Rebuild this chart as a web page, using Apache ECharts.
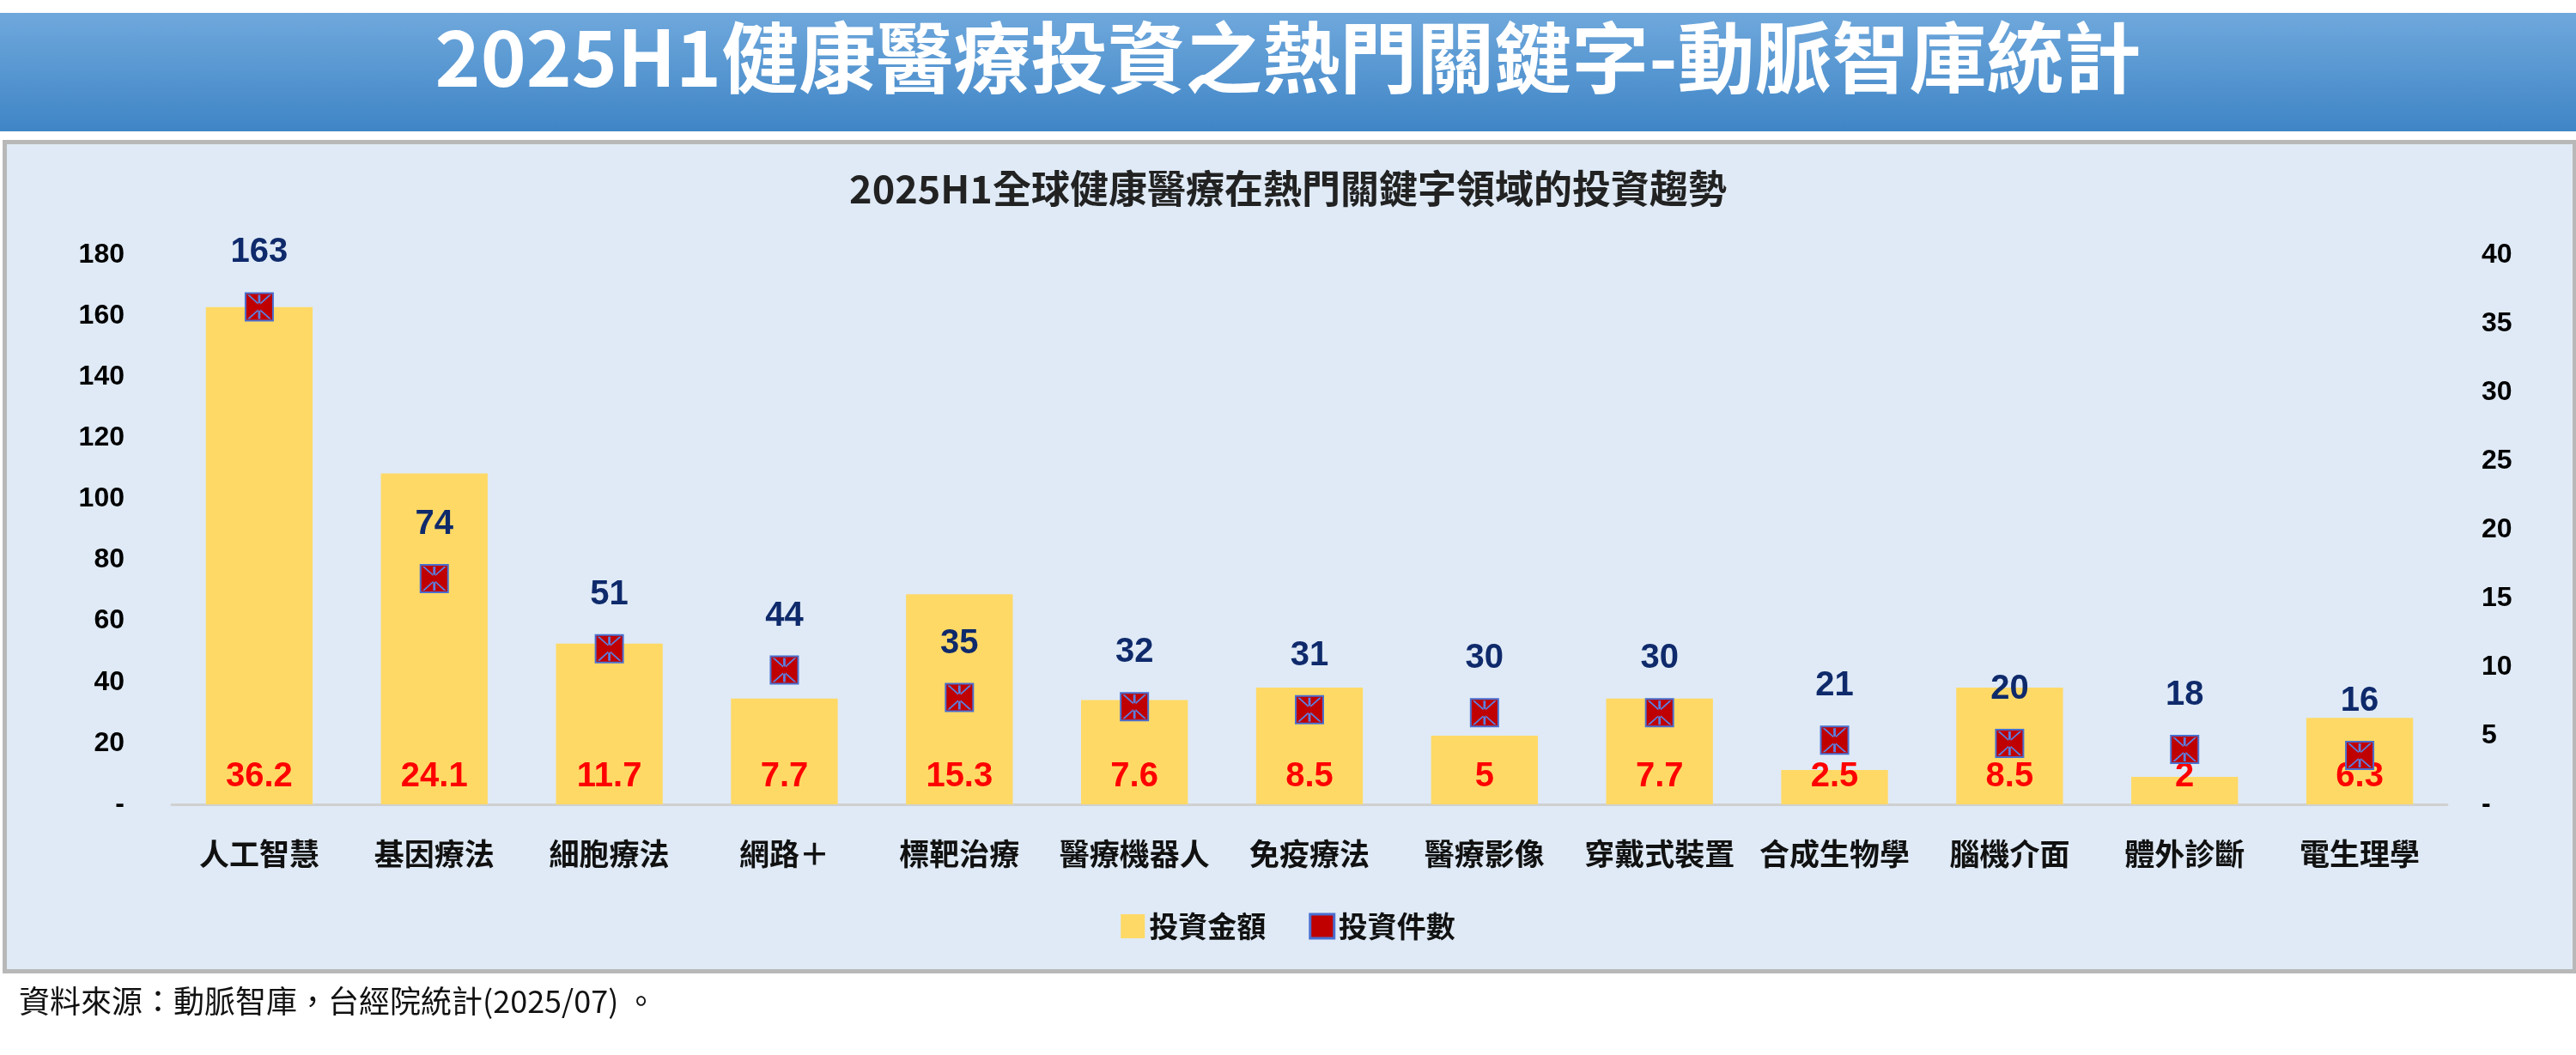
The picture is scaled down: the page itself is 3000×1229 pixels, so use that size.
<!DOCTYPE html>
<html><head><meta charset="utf-8">
<script src="https://cdn.jsdelivr.net/npm/echarts@6/dist/echarts.min.js"></script>
<style>html,body{margin:0;padding:0;background:#fff}#c{width:3000px;height:1229px}</style>
</head><body><div id="c"></div>
<script>
const categories = ['人工智慧','基因療法','細胞療法','網路＋','標靶治療','醫療機器人','免疫療法','醫療影像','穿戴式裝置','合成生物學','腦機介面','體外診斷','電生理學'];
const amounts = [36.2,24.1,11.7,7.7,15.3,7.6,8.5,5,7.7,2.5,8.5,2,6.3];
const counts = [163,74,51,44,35,32,31,30,30,21,20,18,16];
const leftTicks = {min:0,max:180,interval:20};
const rightTicks = {min:0,max:40,interval:5};

const F = '"Noto Sans CJK TC","Liberation Sans",sans-serif';
const chart = echarts.init(document.getElementById('c'));
chart.setOption({
  backgroundColor:'#ffffff',
  graphic:[
    {type:'rect',left:0,top:15,shape:{width:3000,height:138},style:{fill:new echarts.graphic.LinearGradient(0,0,0,1,[{offset:0,color:'#6fa8dc'},{offset:1,color:'#3f85c6'}])},z:-10},
    {type:'text',left:'center',top:22,style:{text:'2025H1健康醫療投資之熱門關鍵字-動脈智庫統計',fill:'#fff',font:'bold 90px '+F}},
    {type:'rect',left:3,top:163,shape:{width:2993,height:966},style:{fill:'#dfeaf6',stroke:'#b8b8b8',lineWidth:5},z:-10},
    {type:'text',left:22,top:1148,style:{text:'資料來源：動脈智庫，台經院統計(2025/07) 。',fill:'#111',font:'36px '+F}}
  ],
  title:{text:'2025H1全球健康醫療在熱門關鍵字領域的投資趨勢',left:'center',top:192,textStyle:{fontFamily:F,fontSize:45,fontWeight:'bold',color:'#222'}},
  legend:{bottom:128,left:'center',itemWidth:28,itemHeight:28,itemGap:50,textStyle:{fontFamily:F,fontSize:34,fontWeight:'bold',color:'#111'},
    data:[{name:'投資金額',icon:'rect',itemStyle:{color:'#ffd966'}},{name:'投資件數',icon:'rect',itemStyle:{color:'#c00000',borderColor:'#4a6fd0',borderWidth:3}}]},
  grid:{left:200,right:150,top:297,bottom:292},
  xAxis:{type:'category',data:categories,axisTick:{show:false},axisLine:{lineStyle:{color:'#d0d0d0',width:3}},
    axisLabel:{fontFamily:F,fontSize:35,fontWeight:'bold',color:'#111',margin:40,interval:0}},
  yAxis:[
    {type:'value',...leftTicks,splitLine:{show:false},axisLine:{show:false},axisTick:{show:false},
      axisLabel:{fontFamily:'"Liberation Sans",Arial',fontSize:32,fontWeight:'bold',color:'#000',margin:55,formatter:v=>v===0?'-':v}},
    {type:'value',...rightTicks,splitLine:{show:false},axisLine:{show:false},axisTick:{show:false},
      axisLabel:{fontFamily:'"Liberation Sans",Arial',fontSize:32,fontWeight:'bold',color:'#000',margin:40,formatter:v=>v===0?'-':v}}
  ],
  series:[
    {name:'投資金額',type:'bar',yAxisIndex:1,data:amounts,barWidth:'61%',itemStyle:{color:'#ffd966'},
      label:{show:true,position:'insideBottom',distance:12,color:'#ff0000',fontFamily:'"Liberation Sans",Arial',fontSize:40,fontWeight:'bold'}},
    {name:'投資件數',type:'scatter',yAxisIndex:0,data:counts,symbol:'rect',symbolSize:[32,32],
      itemStyle:{color:'#c00000',borderColor:'#4a6fd0',borderWidth:2,opacity:1},z:5,
      label:{show:true,position:'top',distance:26,color:'#0f2a6b',fontFamily:'"Liberation Sans",Arial',fontSize:40,fontWeight:'bold'}},
    {name:'x',type:'scatter',yAxisIndex:0,data:counts,silent:true,z:6,symbolSize:[28,28],
      symbol:'path://M0,0L2,0L10,11L18,0L20,0L11,12L11,0L9,0L9,12Z M0,30L2,30L10,19L18,30L20,30L11,18L11,30L9,30L9,18Z',
      itemStyle:{color:'#5b7fe0',opacity:1}}
  ]
});
</script></body></html>
